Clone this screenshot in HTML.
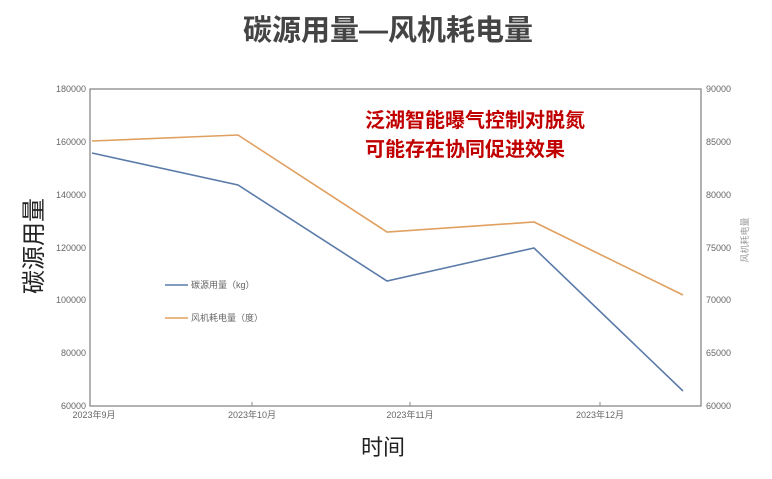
<!DOCTYPE html>
<html><head><meta charset="utf-8"><style>
body{margin:0;background:#fff;}
svg text{font-family:"Liberation Sans","Noto Sans CJK SC",sans-serif;}
</style></head><body>
<svg width="772" height="474" xmlns="http://www.w3.org/2000/svg">
<rect width="772" height="474" fill="#fff"/>
<text x="388" y="40" font-size="29" font-weight="bold" fill="#444" text-anchor="middle">碳源用量—风机耗电量</text>
<rect x="90" y="89" width="611" height="317" fill="none" stroke="#888" stroke-width="1.3"/>
<g font-size="9" fill="#666" text-anchor="end">
<text x="86" y="92">180000</text><text x="86" y="145">160000</text><text x="86" y="198">140000</text>
<text x="86" y="251">120000</text><text x="86" y="303">100000</text><text x="86" y="356">80000</text><text x="86" y="409">60000</text>
</g>
<g font-size="9" fill="#666">
<text x="706" y="92">90000</text><text x="706" y="145">85000</text><text x="706" y="198">80000</text>
<text x="706" y="251">75000</text><text x="706" y="303">70000</text><text x="706" y="356">65000</text><text x="706" y="409">60000</text>
</g>
<g stroke="#888"><line x1="252" y1="406" x2="252" y2="402"/><line x1="410" y1="406" x2="410" y2="402"/><line x1="600" y1="406" x2="600" y2="402"/></g>
<g font-size="9" fill="#666" text-anchor="middle">
<text x="94" y="418">2023年9月</text><text x="252" y="418">2023年10月</text><text x="410" y="418">2023年11月</text><text x="600" y="418">2023年12月</text>
</g>
<polyline points="92,141 238,135 387,232 534,222 683,295" fill="none" stroke="#e0a060" stroke-width="1.6"/>
<polyline points="92,153 238,185 387,281 534,248 683,391" fill="none" stroke="#5a7aa8" stroke-width="1.6"/>
<line x1="165" y1="285" x2="188" y2="285" stroke="#5a7aa8" stroke-width="1.6"/>
<text x="191" y="288" font-size="9" fill="#666">碳源用量（kg）</text>
<line x1="165" y1="318" x2="188" y2="318" stroke="#e0a060" stroke-width="1.6"/>
<text x="191" y="321" font-size="9" fill="#666">风机耗电量（度）</text>
<text x="365" y="127" font-size="20" font-weight="bold" fill="#c00000">泛湖智能曝气控制对脱氮</text>
<text x="365" y="156" font-size="20" font-weight="bold" fill="#c00000">可能存在协同促进效果</text>
<text transform="translate(42,246) rotate(-90)" font-size="24" fill="#222" text-anchor="middle">碳源用量</text>
<text transform="translate(748,240) rotate(-90)" font-size="9" fill="#999" text-anchor="middle">风机耗电量</text>
<text x="383" y="455" font-size="22" fill="#222" text-anchor="middle">时间</text>
</svg>
</body></html>
